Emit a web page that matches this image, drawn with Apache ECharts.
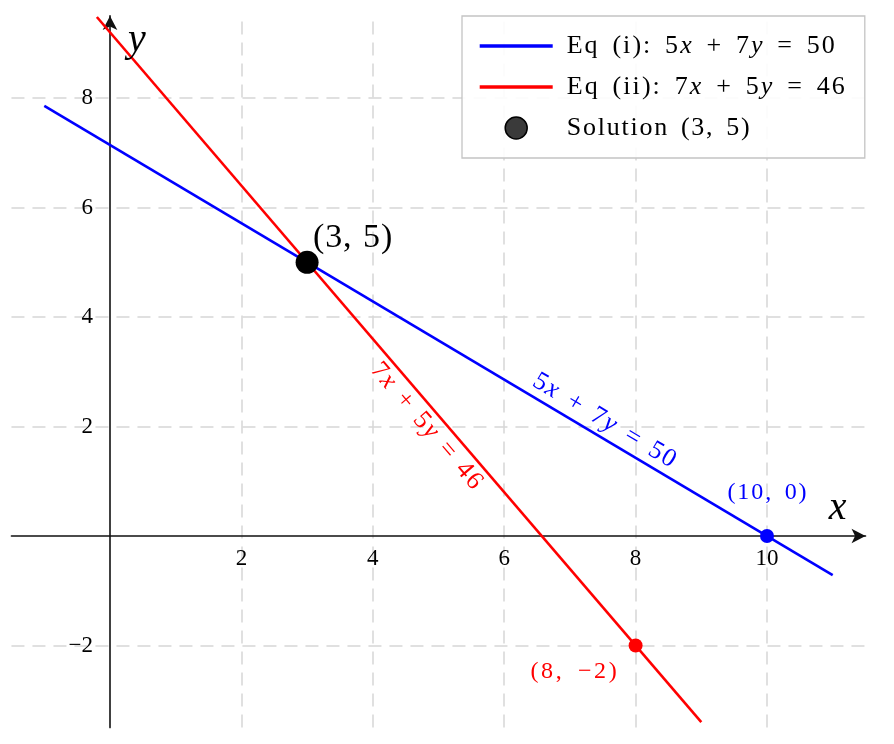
<!DOCTYPE html>
<html><head><meta charset="utf-8">
<script src="https://cdn.jsdelivr.net/npm/echarts@6/dist/echarts.min.js"></script>
<style>html,body{margin:0;padding:0;background:#fff}#c{width:894px;height:744px}</style>
</head><body><div id="c"></div>
<script>
// ---- data ----
const xTickValues = [2, 4, 6, 8, 10];
const yTickValues = [-2, 2, 4, 6, 8];
const eq1Line = [[-1, 7.857], [11, -0.714]];   // 5x + 7y = 50
const eq2Line = [[-0.2, 9.48], [9, -3.4]];     // 7x + 5y = 46
const solutionPoint = [[3, 5]];
const eq1Intercept = [[10, 0]];
const eq2Point = [[8, -2]];

const FONT = 'Liberation Serif';
const fmtNum = v => (v < 0 ? '\u2212' + Math.abs(v) : String(v));
const mathItalic = ch => ch === 'x' || ch === 'y';

const mctx = document.createElement('canvas').getContext('2d');
function tw(ch, size, it) {
  mctx.font = (it ? 'italic ' : '') + size + 'px "' + FONT + '"';
  return mctx.measureText(ch).width;
}
// rich text with italic math letters; extra tracking so the text spans `target` px
function richText(str, o) {
  const chars = Array.from(str);
  const SPW = o.spaceWeight || 3;
  let natural = 0, weights = 0;
  chars.forEach((ch, i) => {
    natural += tw(ch, o.size, o.italic && o.italic(ch));
    if (i < chars.length - 1) weights += (ch === ' ' ? SPW : 1);
  });
  const unit = o.target ? (o.target - natural) / weights : 0;
  const rich = {}; let text = '';
  chars.forEach((ch, i) => {
    const it = !!(o.italic && o.italic(ch));
    let w = tw(ch, o.size, it) + (i < chars.length - 1 ? unit * (ch === ' ' ? SPW : 1) : 0);
    w = Math.max(0, Math.round(w * 10) / 10);
    const key = o.key + (it ? 'i' : 'n') + String(Math.round(w * 10));
    rich[key] = {fontFamily: FONT, fontSize: o.size, fontStyle: it ? 'italic' : 'normal', width: w,
      align: 'left', color: o.color, fill: o.color};
    text += '{' + key + '|' + ch + '}';
  });
  return {text, rich};
}

const chart = echarts.init(document.getElementById('c'), null, {renderer: 'canvas'});

const gridLineData = xTickValues.map(v => ({xAxis: v})).concat(yTickValues.map(v => ({yAxis: v})));

// legend texts
const LS = 26;
const lg1 = richText('Eq (i): 5x + 7y = 50', {size: LS, color: '#000', target: 268, italic: mathItalic, key: 'la'});
const lg2 = richText('Eq (ii): 7x + 5y = 46', {size: LS, color: '#000', target: 278, italic: mathItalic, key: 'lb'});
const lg3 = richText('Solution (3, 5)', {size: LS, color: '#000', target: 183, key: 'lc'});
const legendRich = Object.assign({gap: {width: 9, fontSize: LS, fontFamily: FONT}}, lg1.rich, lg2.rich, lg3.rich);
const legendText = {'Eq (i)': '{gap| }' + lg1.text, 'Eq (ii)': '{gap| }' + lg2.text, 'Solution': '{gap| }' + lg3.text};

const pl1 = richText('(10, 0)', {size: 24, color: '#0000ff', target: 79, key: 'pa'});
const pl2 = richText('(8, \u22122)', {size: 24, color: '#ff0000', target: 86, key: 'pb'});
const pl3 = richText('(3, 5)', {size: 34, color: '#000', target: 79, key: 'pc'});

const axisCommon = {
  type: 'value',
  interval: 0.5,
  z: 2,
  axisLine: {onZero: true, symbol: ['none', 'arrow'], symbolSize: [11, 14], lineStyle: {color: '#111', width: 1.6}},
  axisTick: {show: false},
  splitLine: {show: false},
  axisLabel: {show: false}
};

const tickLabelStyle = {fontFamily: FONT, fontSize: 23, color: '#000'};

chart.setOption({
  animation: false,
  backgroundColor: '#fff',
  grid: {left: 11.45, right: 28.45, top: 15.9, bottom: 16.4, containLabel: false, outerBoundsMode: 'none'},
  xAxis: Object.assign({}, axisCommon, {min: -1.5, max: 11.5}),
  yAxis: Object.assign({}, axisCommon, {min: -3.5, max: 9.5}),
  legend: {
    orient: 'vertical', left: 462, top: 16,
    padding: [17, 20, 17, 16],
    backgroundColor: 'rgba(255,255,255,0.9)', borderColor: '#c4c4c4', borderWidth: 1.3, borderRadius: 0,
    itemWidth: 73, itemHeight: 22, itemGap: 15, z: 10,
    selectedMode: false,
    lineStyle: {width: 3.4},
    data: [
      {name: 'Eq (i)', itemStyle: {opacity: 0}},
      {name: 'Eq (ii)', itemStyle: {opacity: 0}},
      {name: 'Solution', itemStyle: {color: '#3a3a3a', borderColor: '#000', borderWidth: 1.5, opacity: 1}}
    ],
    formatter: name => legendText[name],
    textStyle: {fontFamily: FONT, fontSize: LS, color: '#000', rich: legendRich}
  },
  series: [
    {
      name: 'grid', type: 'scatter', data: [], z: 1, silent: true,
      markLine: {
        silent: true, z: 1, symbol: ['none', 'none'], label: {show: false}, animation: false,
        lineStyle: {type: [13, 8], color: '#d6d6d6', width: 1.5},
        emphasis: {disabled: true},
        data: gridLineData
      }
    },
    {
      name: 'x ticks', type: 'scatter', silent: true, z: 4, symbolSize: 1,
      data: xTickValues.map(v => [v, 0]),
      itemStyle: {color: 'transparent', opacity: 1},
      label: Object.assign({show: true, position: 'inside', offset: [0, 23], formatter: p => fmtNum(p.value[0])}, tickLabelStyle)
    },
    {
      name: 'y ticks', type: 'scatter', silent: true, z: 4, symbolSize: 1,
      data: yTickValues.map(v => [0, v]),
      itemStyle: {color: 'transparent', opacity: 1},
      label: Object.assign({show: true, position: 'inside', align: 'right', offset: [-17, 0], formatter: p => fmtNum(p.value[1])}, tickLabelStyle)
    },
    {
      name: 'Eq (i)', type: 'line', data: eq1Line, symbol: 'none', z: 3, clip: true,
      lineStyle: {color: '#0000ff', width: 2.6}, itemStyle: {color: '#0000ff'}
    },
    {
      name: 'Eq (ii)', type: 'line', data: eq2Line, symbol: 'none', z: 3, clip: true,
      lineStyle: {color: '#ff0000', width: 2.6}, itemStyle: {color: '#ff0000'}
    },
    {
      name: 'Eq (i) intercept', type: 'scatter', data: eq1Intercept, symbolSize: 14, z: 4,
      itemStyle: {color: '#0000ff', opacity: 1},
      label: {show: true, position: 'inside', align: 'center', offset: [0, -43], formatter: pl1.text, rich: pl1.rich}
    },
    {
      name: 'Eq (ii) point', type: 'scatter', data: eq2Point, symbolSize: 14, z: 4,
      itemStyle: {color: '#ff0000', opacity: 1},
      label: {show: true, position: 'inside', align: 'center', offset: [-62, 26], formatter: pl2.text, rich: pl2.rich}
    },
    {
      name: 'Solution', type: 'scatter', data: solutionPoint, symbolSize: 23, z: 5,
      itemStyle: {color: '#000', opacity: 1},
      label: {show: true, position: 'inside', align: 'left', offset: [6, -24], formatter: pl3.text, rich: pl3.rich}
    }
  ]
});

function px(p) { return chart.convertToPixel({gridIndex: 0}, p); }

function lineLabel(line, atX, text, color, side, target, key) {
  const a = px(line[0]), b = px(line[1]);
  const dx = b[0] - a[0], dy = b[1] - a[1];
  const len = Math.hypot(dx, dy);
  const ux = dx / len, uy = dy / len;
  const t = (atX - line[0][0]) / (line[1][0] - line[0][0]);
  const p = px([atX, line[0][1] + t * (line[1][1] - line[0][1])]);
  const nx = side * uy, ny = -side * ux;
  const rt = richText(text, {size: LS, color: color, target: target, italic: mathItalic, key: key});
  return {
    type: 'text', z: 6,
    x: p[0] + nx * 16, y: p[1] + ny * 16,
    rotation: -Math.atan2(dy, dx),
    style: {text: rt.text, rich: rt.rich, fill: color, align: 'center', verticalAlign: 'middle',
      fontFamily: FONT, fontSize: LS}
  };
}

const xEnd = px([11.5, 0]);
const yEnd = px([0, 9.5]);

chart.setOption({
  graphic: [
    lineLabel(eq1Line, 7.4, '5x + 7y = 50', '#0000ff', 1, 162, 'ga'),
    lineLabel(eq2Line, 5, '7x + 5y = 46', '#ff0000', -1, 158, 'gb'),
    {type: 'text', z: 6, x: xEnd[0] - 28, y: xEnd[1] - 28,
      style: {text: 'x', fontFamily: FONT, fontStyle: 'italic', fontSize: 40, fill: '#000', align: 'center', verticalAlign: 'middle'}},
    {type: 'text', z: 6, x: yEnd[0] + 27, y: yEnd[1] + 25,
      style: {text: 'y', fontFamily: FONT, fontStyle: 'italic', fontSize: 40, fill: '#000', align: 'center', verticalAlign: 'middle'}}
  ]
});
</script>
</body></html>
